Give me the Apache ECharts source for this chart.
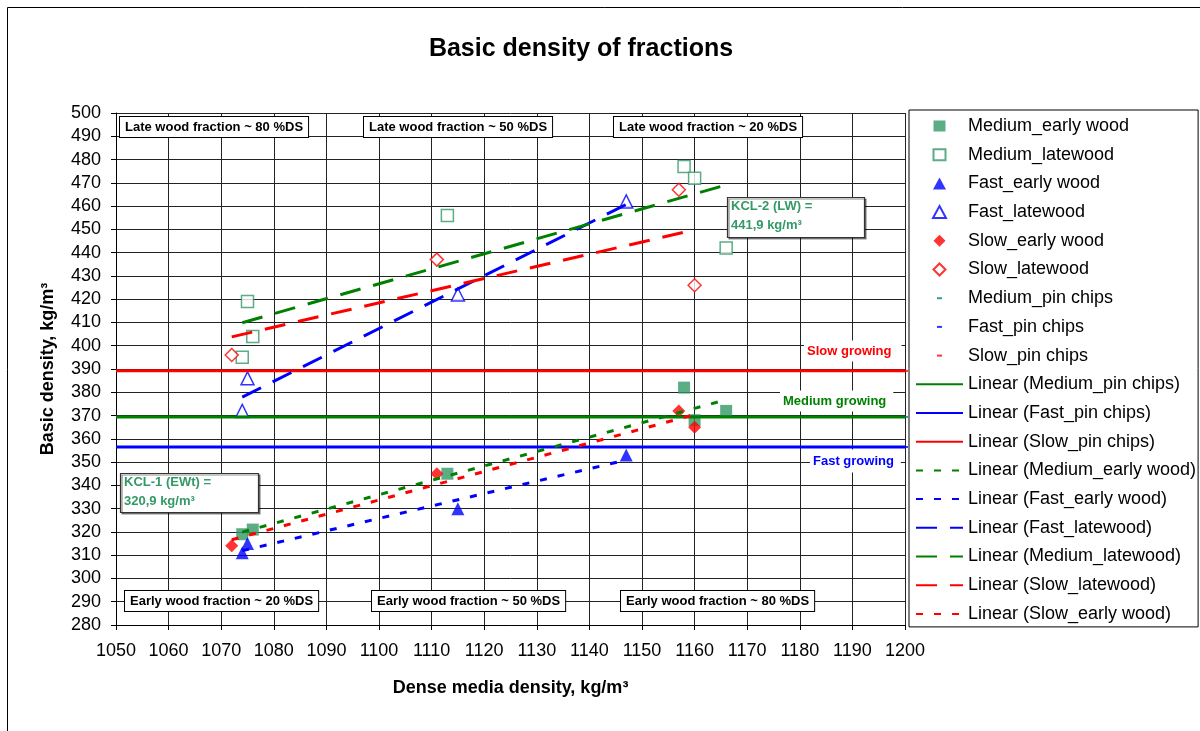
<!DOCTYPE html>
<html>
<head>
<meta charset="utf-8">
<title>Basic density of fractions</title>
<script src="https://cdn.jsdelivr.net/npm/echarts@6/dist/echarts.min.js"></script>
<style>
  html, body { margin: 0; padding: 0; background: #fff; }
  #chart { width: 1200px; height: 731px; }
</style>
</head>
<body>
<div id="chart"></div>
<script>
// Measured fractions: [dense media density, basic density], kg/m3
const mediumEarly = [[1074, 319], [1076, 321], [1113, 345], [1158, 382], [1160, 368], [1166, 372]];
const mediumLate  = [[1074, 395], [1075, 419], [1076, 404], [1113, 456], [1158, 477], [1160, 472], [1166, 442]];
const fastEarly   = [[1074, 311], [1075, 315], [1115, 330], [1147, 353]];
const fastLate    = [[1074, 372], [1075, 386], [1115, 422], [1147, 462]];
const slowEarly   = [[1072, 314], [1111, 345], [1157, 372], [1160, 365]];
const slowLate    = [[1072, 396], [1111, 437], [1157, 467], [1160, 426]];

// Pin chips basic density per growth class
const mediumPinChips = [[1200, 369.4]];
const fastPinChips   = [[1200, 356.5]];
const slowPinChips   = [[1200, 389.2]];

// Linear trend lines (start and end points)
const trendMediumPin   = [[1050, 369.4], [1200, 369.4]];
const trendFastPin     = [[1050, 356.5], [1200, 356.5]];
const trendSlowPin     = [[1050, 389.2], [1200, 389.2]];
const trendMediumEarly = [[1074, 319.9], [1166, 376.8]];
const trendFastEarly   = [[1074, 311.9], [1147, 350.9]];
const trendFastLate    = [[1074, 377.9], [1147, 460.7]];
const trendMediumLate  = [[1074, 409.9], [1166, 469.1]];
const trendSlowLate    = [[1072, 403.8], [1160, 449.8]];
const trendSlowEarly   = [[1072, 316.6], [1160, 370.4]];

// Axis settings
const xTicks = { min: 1050, max: 1200, step: 10 };
const yTicks = { min: 280, max: 500, step: 10 };

// Annotation texts
const fractionNotes = [
  'Late wood fraction ~ 80 %DS', 'Late wood fraction ~ 50 %DS', 'Late wood fraction ~ 20 %DS',
  'Early wood fraction ~ 20 %DS', 'Early wood fraction ~ 50 %DS', 'Early wood fraction ~ 80 %DS'
];
const kclNotes = [['KCL-1 (EWt) =', '320,9 kg/m³'], ['KCL-2 (LW) =', '441,9 kg/m³']];
const growthNotes = ['Slow growing', 'Medium growing', 'Fast growing'];

const FONT = '"Liberation Sans", Arial, Helvetica, sans-serif';
const GREEN_MARK = '#339966';
const GREEN = '#008000';
const BLUE = '#0000ff';
const RED = '#ff0000';
const TEAL = '#008080';
const LONG_DASH = [21, 13];
const SHORT_DASH = [7, 11];

// Legend icons laid out on the full 47x12 icon cell (leading moves fix the bounding box)
const CELL = 'path://M0,0M47,12';
const squareIcon   = CELL + 'M17.5,0.5H29.5V11.5H17.5Z';
const triangleIcon = CELL + 'M23.5,0L30,12H17Z';
const diamondIcon  = CELL + 'M23.5,0L29.5,6L23.5,12L17.5,6Z';
const dashIcon     = CELL + 'M21,5H26V7H21Z';

function scatter(name, data, symbol, size, color, hollow) {
  return {
    name, type: 'scatter', data, symbol, symbolSize: size, z: 2,
    itemStyle: hollow
      ? { color: '#fff', borderColor: color, borderWidth: 1.5 }
      : { color: color },
    emphasis: { disabled: true }
  };
}
function trend(name, data, color, dash) {
  return {
    name, type: 'line', data, symbol: 'none', z: 3,
    lineStyle: { color, width: 3, type: dash, cap: 'butt' },
    itemStyle: { color },
    emphasis: { disabled: true }
  };
}
function markerItem(name, icon) {
  return { name, icon };
}
function lineItem(name) {
  // line-only legend entry: hide the centre symbol
  return { name, itemStyle: { color: 'rgba(0,0,0,0)', borderWidth: 0, opacity: 0 } };
}

// Boxed annotation helpers
const noteFont = 'bold 13px ' + FONT;
function fractionBox(text, x, y) {
  return {
    type: 'text', x, y, z: 60,
    style: {
      text, font: noteFont, fill: '#000',
      backgroundColor: '#fff', borderColor: '#000', borderWidth: 1,
      padding: [4, 5, 3, 5]
    }
  };
}
function kclBox(lines, x, y, w, h) {
  return [
    { type: 'rect', z: 60, shape: { x: x + 0.5, y: y + 0.5, width: w, height: h },
      style: { fill: '#fff', stroke: '#333', lineWidth: 1.2,
               shadowColor: 'rgba(0,0,0,0.45)', shadowOffsetX: 1.5, shadowOffsetY: 1.5, shadowBlur: 0 } },
    { type: 'text', z: 61, x: x + 4, y: y + 9.5,
      style: { text: lines[0], font: noteFont, fill: GREEN_MARK, verticalAlign: 'middle' } },
    { type: 'text', z: 61, x: x + 4, y: y + 28.5,
      style: { text: lines[1], font: noteFont, fill: GREEN_MARK, verticalAlign: 'middle' } }
  ];
}
function growthLabel(text, x, y, color, pad) {
  return {
    type: 'text', x, y, z: 60,
    style: {
      text, font: noteFont, fill: color, verticalAlign: 'middle',
      backgroundColor: '#fff', padding: pad
    }
  };
}

const chart = echarts.init(document.getElementById('chart'), null, { renderer: 'canvas' });

chart.setOption({
  animation: false,
  backgroundColor: '#fff',
  textStyle: { fontFamily: FONT },
  grid: { left: 116, right: 295, top: 113, bottom: 106 },
  xAxis: {
    type: 'value', min: xTicks.min, max: xTicks.max, interval: xTicks.step,
    axisLine: { show: true, lineStyle: { color: '#000', width: 1 } },
    axisTick: { show: true, length: 5, lineStyle: { color: '#000' } },
    axisLabel: { fontSize: 18, color: '#000', margin: 17, fontFamily: FONT,
                 formatter: v => String(v) },
    splitLine: { show: true, lineStyle: { color: '#222', width: 1 } },
    name: 'Dense media density, kg/m³', nameLocation: 'middle', nameGap: 54,
    nameTextStyle: { fontSize: 18, fontWeight: 'bold', color: '#000', fontFamily: FONT }
  },
  yAxis: {
    type: 'value', min: yTicks.min, max: yTicks.max, interval: yTicks.step,
    axisLine: { show: true, lineStyle: { color: '#000', width: 1 } },
    axisTick: { show: true, length: 5, lineStyle: { color: '#000' } },
    axisLabel: { fontSize: 18, color: '#000', margin: 15, fontFamily: FONT,
                 formatter: v => String(v) },
    splitLine: { show: true, lineStyle: { color: '#222', width: 1 } },
    name: 'Basic density, kg/m³', nameLocation: 'middle', nameGap: 59, nameRotate: 90,
    nameTextStyle: { fontSize: 18, fontWeight: 'bold', color: '#000', fontFamily: FONT }
  },
  legend: {
    orient: 'vertical', left: 909, top: 110,
    itemWidth: 47, itemHeight: 12, itemGap: 10.7,
    padding: [7, 2, 4, 6],
    borderColor: '#000', borderWidth: 1, backgroundColor: '#fff',
    selectedMode: false,
    textStyle: { fontSize: 18, color: '#000', fontFamily: FONT, lineHeight: 18 },
    data: [
      markerItem('Medium_early wood', squareIcon),
      markerItem('Medium_latewood', squareIcon),
      markerItem('Fast_early wood', triangleIcon),
      markerItem('Fast_latewood', triangleIcon),
      markerItem('Slow_early wood', diamondIcon),
      markerItem('Slow_latewood', diamondIcon),
      markerItem('Medium_pin chips', dashIcon),
      markerItem('Fast_pin chips', dashIcon),
      markerItem('Slow_pin chips', dashIcon),
      lineItem('Linear (Medium_pin chips)'),
      lineItem('Linear (Fast_pin chips)'),
      lineItem('Linear (Slow_pin chips)'),
      lineItem('Linear (Medium_early wood)'),
      lineItem('Linear (Fast_early wood)'),
      lineItem('Linear (Fast_latewood)'),
      lineItem('Linear (Medium_latewood)'),
      lineItem('Linear (Slow_latewood)'),
      lineItem('Linear (Slow_early wood)')
    ]
  },
  graphic: [
    { type: 'rect', z: -1, silent: true,
      shape: { x: 7.5, y: 7.5, width: 1300, height: 900 },
      style: { fill: 'none', stroke: '#000', lineWidth: 1 } },
    { type: 'text', x: 581, y: 49, z: 60,
      style: { text: 'Basic density of fractions', font: 'bold 25px ' + FONT, fill: '#000',
               align: 'center', verticalAlign: 'middle' } },
    fractionBox(fractionNotes[0], 120, 117),
    fractionBox(fractionNotes[1], 364, 117),
    fractionBox(fractionNotes[2], 614, 117),
    fractionBox(fractionNotes[3], 125, 591),
    fractionBox(fractionNotes[4], 372, 591),
    fractionBox(fractionNotes[5], 621, 591),
    ...kclBox(kclNotes[0], 120, 473, 138, 39),
    ...kclBox(kclNotes[1], 727, 197, 137, 40),
    growthLabel(growthNotes[0], 804, 351, RED, [4, 10, 4, 3]),
    growthLabel(growthNotes[1], 780, 401, GREEN, [4, 7, 4, 3]),
    growthLabel(growthNotes[2], 810, 461, BLUE, [5, 7, 5, 3])
  ],
  series: [
    scatter('Medium_early wood', mediumEarly, 'rect', 12, GREEN_MARK, false),
    scatter('Medium_latewood', mediumLate, 'rect', 12, GREEN_MARK, true),
    scatter('Fast_early wood', fastEarly, 'triangle', 13, BLUE, false),
    scatter('Fast_latewood', fastLate, 'triangle', 13, BLUE, true),
    scatter('Slow_early wood', slowEarly, 'diamond', 13, RED, false),
    scatter('Slow_latewood', slowLate, 'diamond', 13, RED, true),
    scatter('Medium_pin chips', mediumPinChips, 'rect', [6, 2], TEAL, false),
    scatter('Fast_pin chips', fastPinChips, 'rect', [6, 2], BLUE, false),
    scatter('Slow_pin chips', slowPinChips, 'rect', [6, 2], RED, false),
    trend('Linear (Medium_pin chips)', trendMediumPin, GREEN, 'solid'),
    trend('Linear (Fast_pin chips)', trendFastPin, BLUE, 'solid'),
    trend('Linear (Slow_pin chips)', trendSlowPin, RED, 'solid'),
    trend('Linear (Medium_early wood)', trendMediumEarly, GREEN, SHORT_DASH),
    trend('Linear (Fast_early wood)', trendFastEarly, BLUE, SHORT_DASH),
    trend('Linear (Fast_latewood)', trendFastLate, BLUE, LONG_DASH),
    trend('Linear (Medium_latewood)', trendMediumLate, GREEN, LONG_DASH),
    trend('Linear (Slow_latewood)', trendSlowLate, RED, LONG_DASH),
    trend('Linear (Slow_early wood)', trendSlowEarly, RED, SHORT_DASH)
  ]
});
</script>
</body>
</html>
